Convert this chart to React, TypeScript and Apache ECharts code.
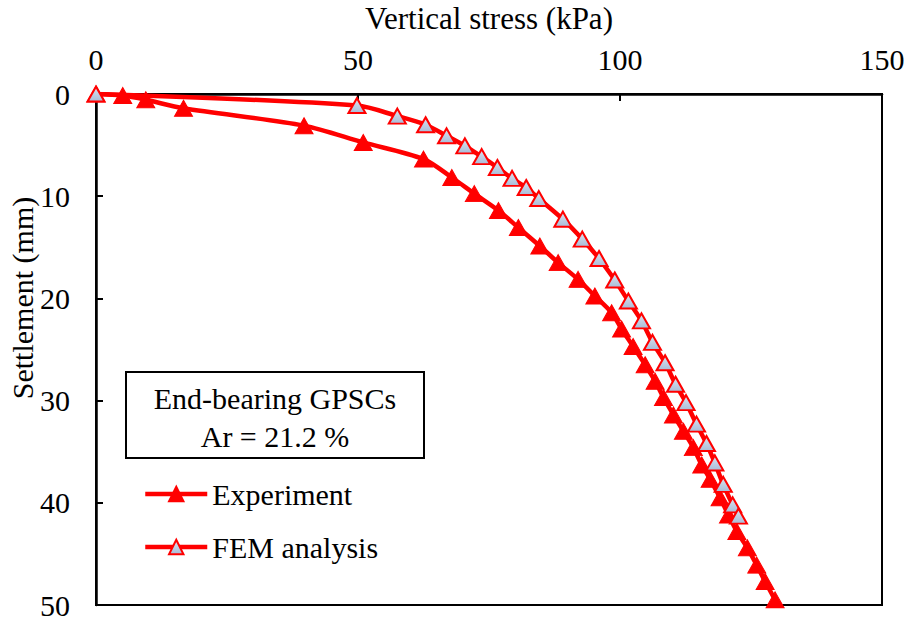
import React, { useEffect, useRef } from "react";
import * as echarts from "echarts";

const expStress = [0, 5.1, 9.5, 16.7, 39.7, 51.0, 62.5, 67.9, 72.2, 76.8, 80.6, 84.7, 88.2, 92.0, 95.2, 98.4, 100.3, 102.5, 104.8, 106.7, 108.3, 110.2, 112.1, 114.0, 115.6, 117.2, 119.1, 120.7, 122.3, 124.3, 126.1, 127.7, 129.6];
const expSettle = [0, 0.15, 0.56, 1.4, 3.1, 4.74, 6.37, 8.17, 9.75, 11.4, 13.07, 14.87, 16.5, 18.14, 19.77, 21.4, 23.0, 24.7, 26.5, 28.1, 29.7, 31.4, 33.0, 34.6, 36.3, 37.7, 39.5, 41.2, 42.8, 44.4, 46.1, 47.7, 49.5];

const femStress = [0, 49.8, 57.5, 62.9, 66.9, 70.4, 73.6, 76.6, 79.4, 82.1, 84.5, 89.1, 92.8, 96.0, 99.0, 101.6, 104.1, 106.2, 108.6, 110.6, 112.6, 114.6, 116.5, 118.1, 119.7, 121.5, 122.6];
const femSettle = [0, 1.13, 2.16, 3.01, 4.09, 5.07, 6.13, 7.19, 8.26, 9.15, 10.23, 12.25, 14.2, 16.1, 18.2, 20.26, 22.2, 24.3, 26.3, 28.4, 30.2, 32.3, 34.2, 36.1, 38.2, 40.2, 41.3];

const xTicks = { min: 0, max: 150, interval: 50 };
const yTicks = { min: 0, max: 50, interval: 10 };

const seriesNames = ["Experiment", "FEM analysis"];
const boxLines = ["End-bearing GPSCs", "Ar = 21.2 %"];
const xTitle = "Vertical stress (kPa)";
const yTitle = "Settlement (mm)";

const FONT = "'Liberation Serif', 'Times New Roman', serif";
const FS = 30;

export default function App() {
  const ref = useRef<HTMLDivElement>(null);
  useEffect(() => {
    if (!ref.current) return;
    const chart = echarts.init(ref.current, null, { renderer: "svg" });
    const expData = expStress.map((x, i) => [x, expSettle[i]]);
    const femData = femStress.map((x, i) => [x, femSettle[i]]);
    const legendCommon = {
      orient: "vertical",
      left: 138,
      padding: 5,
      itemWidth: 62,
      itemHeight: 18,
      itemGap: 10,
      lineStyle: { width: 4.5 },
      textStyle: { fontFamily: FONT, fontSize: FS, color: "#000" },
      selectedMode: false,
    };
    chart.setOption({
      animation: false,
      backgroundColor: "#fff",
      grid: {
        left: 96,
        top: 94,
        right: 25,
        bottom: 17,
        outerBoundsMode: "none",
        containLabel: false,
        show: true,
        borderColor: "#000",
        borderWidth: 2,
        backgroundColor: "transparent",
      },
      xAxis: {
        type: "value",
        position: "top",
        min: xTicks.min,
        max: xTicks.max,
        interval: xTicks.interval,
        name: xTitle,
        nameLocation: "middle",
        nameGap: 60,
        nameTextStyle: { fontFamily: FONT, fontSize: 31, color: "#000" },
        axisLine: { show: true, onZero: false, lineStyle: { color: "#000", width: 2.5 } },
        axisTick: { show: true, inside: true, length: 7, lineStyle: { color: "#000", width: 2 } },
        axisLabel: { fontFamily: FONT, fontSize: FS, color: "#000", margin: 20 },
        splitLine: { show: false },
      },
      yAxis: {
        type: "value",
        inverse: true,
        min: yTicks.min,
        max: yTicks.max,
        interval: yTicks.interval,
        axisLine: { show: true, onZero: false, lineStyle: { color: "#000", width: 2.5 } },
        axisTick: { show: true, inside: true, length: 7, lineStyle: { color: "#000", width: 2 } },
        axisLabel: { fontFamily: FONT, fontSize: FS, color: "#000", margin: 26 },
        splitLine: { show: false },
      },
      legend: [
        { ...legendCommon, top: 474, data: [seriesNames[0]] },
        { ...legendCommon, top: 527, data: [seriesNames[1]] },
      ],
      graphic: [
        {
          type: "text",
          x: 22,
          y: 298,
          rotation: Math.PI / 2,
          style: {
            text: yTitle,
            fontFamily: FONT,
            fontSize: FS,
            fill: "#000",
            align: "center",
            verticalAlign: "middle",
          },
        },
        {
          type: "rect",
          shape: { x: 126, y: 372, width: 298, height: 86 },
          style: { fill: "#fff", stroke: "#000", lineWidth: 2 },
          z: 10,
        },
        {
          type: "text",
          x: 275,
          y: 398,
          z: 11,
          style: {
            text: boxLines[0],
            fontFamily: FONT,
            fontSize: FS,
            fill: "#000",
            align: "center",
            verticalAlign: "middle",
          },
        },
        {
          type: "text",
          x: 275,
          y: 436,
          z: 11,
          style: {
            text: boxLines[1],
            fontFamily: FONT,
            fontSize: FS,
            fill: "#000",
            align: "center",
            verticalAlign: "middle",
          },
        },
      ],
      series: [
        {
          name: seriesNames[0],
          type: "line",
          data: expData,
          smooth: 0.3,
          symbol: "triangle",
          symbolSize: [18, 16],
          lineStyle: { color: "#ff0000", width: 4.5 },
          itemStyle: { color: "#ff0000", borderColor: "#ff0000", borderWidth: 1 },
          z: 3,
        },
        {
          name: seriesNames[1],
          type: "line",
          data: femData,
          smooth: 0.3,
          symbol: "triangle",
          symbolSize: [17, 15],
          lineStyle: { color: "#ff0000", width: 4.5 },
          itemStyle: {
            color: new echarts.graphic.LinearGradient(0, 0, 0, 1, [
              { offset: 0, color: "#dbe4f0" },
              { offset: 1, color: "#a9bcd8" },
            ]),
            borderColor: "#ff0000",
            borderWidth: 2,
          },
          z: 4,
        },
      ],
    });
    return () => chart.dispose();
  }, []);
  return (
    <div
      ref={ref}
      style={{ position: "fixed", left: 0, top: 0, width: 907, height: 622, background: "#fff" }}
    />
  );
}
